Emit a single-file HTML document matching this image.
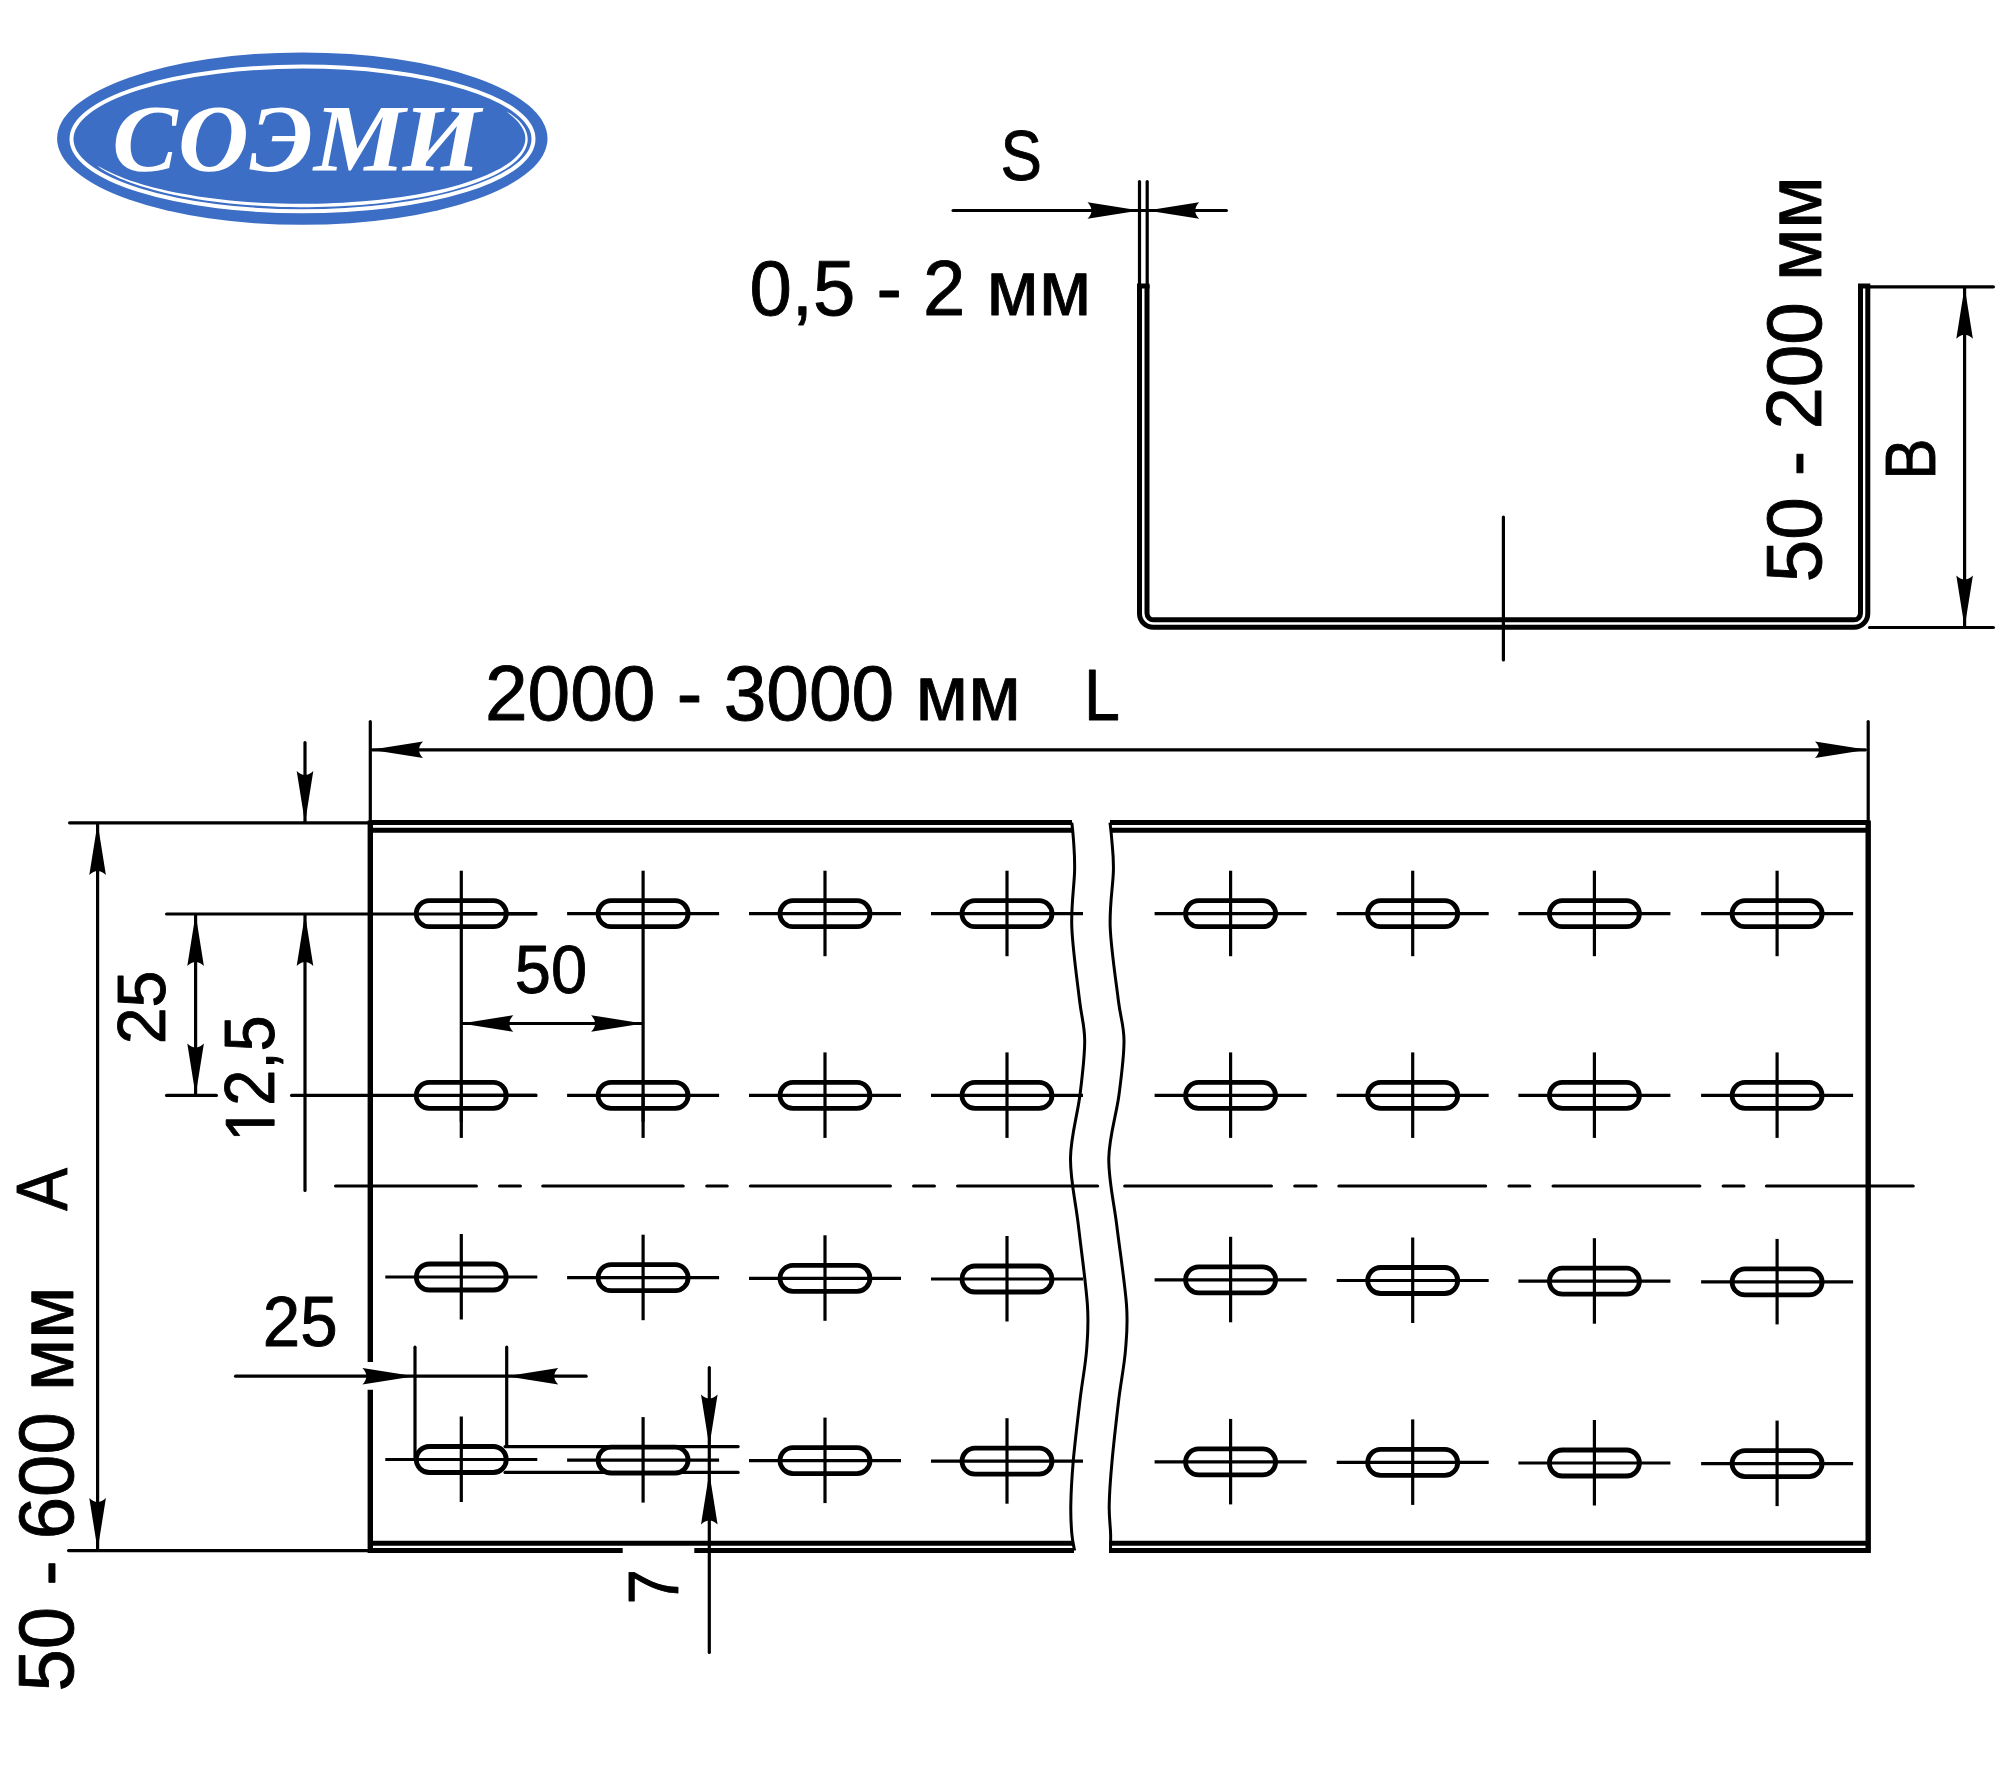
<!DOCTYPE html><html><head><meta charset="utf-8"><style>html,body{margin:0;padding:0;background:#fff;width:2000px;height:1771px;overflow:hidden}svg{display:block}</style></head><body>
<svg width="2000" height="1771" viewBox="0 0 2000 1771">
<rect width="2000" height="1771" fill="#fff"/>
<ellipse cx="302.3" cy="138.6" rx="245.2" ry="86.2" fill="#3b6ec4"/>
<ellipse cx="302.5" cy="138.95" rx="231" ry="72.35" fill="none" stroke="#fff" stroke-width="4"/>
<path d="M97.4,165.7 L100.9,168.4 L104.9,170.9 L109.1,173.3 L113.8,175.6 L118.7,177.9 L123.9,180.1 L129.4,182.2 L135.1,184.3 L141.1,186.2 L147.4,188.1 L153.9,190.0 L160.7,191.7 L167.6,193.4 L174.8,195.0 L182.2,196.4 L189.7,197.8 L197.5,199.2 L205.4,200.4 L213.4,201.5 L221.6,202.5 L229.9,203.4 L238.3,204.3 L246.9,205.0 L255.5,205.6 L264.2,206.1 L272.9,206.5 L281.7,206.9 L290.5,207.1 L299.4,207.2 L308.2,207.2 L317.1,207.1 L325.9,206.8 L334.7,206.5 L343.4,206.1 L352.1,205.6 L360.7,205.0 L369.2,204.2 L377.6,203.4 L385.9,202.5 L394.0,201.5 L402.0,200.3 L409.9,199.1 L417.6,197.8 L425.1,196.4 L432.4,194.9 L439.6,193.4 L446.5,191.7 L453.2,190.0 L459.6,188.1 L465.9,186.3 L471.8,184.3 L477.5,182.2 L483.0,180.1 L488.1,178.0 L493.0,175.7 L497.6,173.4 L501.9,171.1 L505.9,168.7 L509.5,166.2 L512.9,163.7 L515.9,161.2 L518.6,158.6 L520.9,156.0 L522.9,153.3 L524.6,150.6 L525.9,147.8 L526.9,145.1 L527.5,142.3 L527.7,139.5 L527.5,136.7 L527.0,134.0 L526.1,131.3 L524.9,128.6 L523.3,125.9 L521.3,123.3 L519.1,120.8 L516.4,118.3 L513.5,115.9 L510.2,113.5 L506.5,111.5 L506.5,111.5 L509.7,114.2 L512.8,116.7 L515.5,119.3 L517.9,121.8 L520.0,124.4 L521.7,126.9 L523.1,129.5 L524.2,132.0 L524.9,134.5 L525.3,137.0 L525.3,139.4 L525.0,141.9 L524.4,144.4 L523.5,146.8 L522.3,149.3 L520.7,151.7 L518.8,154.1 L516.5,156.6 L513.9,159.0 L511.0,161.4 L507.8,163.7 L504.2,166.1 L500.3,168.4 L496.1,170.6 L491.6,172.8 L486.8,175.0 L481.8,177.1 L476.4,179.1 L470.7,181.1 L464.8,183.0 L458.7,184.9 L452.3,186.7 L445.7,188.4 L438.8,190.0 L431.7,191.5 L424.4,193.0 L417.0,194.4 L409.3,195.7 L401.5,196.9 L393.6,198.0 L385.4,199.0 L377.2,199.9 L368.9,200.8 L360.4,201.5 L351.8,202.1 L343.2,202.7 L334.5,203.1 L325.8,203.4 L317.0,203.7 L308.2,203.8 L299.4,203.8 L290.6,203.7 L281.8,203.6 L273.0,203.3 L264.3,202.9 L255.7,202.4 L247.1,201.9 L238.6,201.2 L230.2,200.4 L221.9,199.5 L213.8,198.6 L205.8,197.5 L197.9,196.4 L190.2,195.1 L182.7,193.8 L175.3,192.4 L168.2,190.9 L161.2,189.3 L154.5,187.7 L148.0,186.0 L141.8,184.2 L135.8,182.3 L130.0,180.4 L124.5,178.4 L119.3,176.3 L114.4,174.2 L109.7,172.1 L105.4,169.9 L101.3,167.7 L97.4,165.7 Z" fill="#fff"/>
<text transform="translate(112.36,170.60) scale(1.0263,1)" font-size="95.62" font-family="Liberation Serif" font-style="italic" font-weight="bold" fill="#fff">С</text>
<text transform="translate(178.08,170.60) scale(1.0236,1)" font-size="95.62" font-family="Liberation Serif" font-style="italic" font-weight="bold" fill="#fff">О</text>
<text transform="translate(249.60,170.60) scale(1.0206,1)" font-size="95.62" font-family="Liberation Serif" font-style="italic" font-weight="bold" fill="#fff">Э</text>
<text transform="translate(313.74,170.60) scale(1.0751,1)" font-size="95.62" font-family="Liberation Serif" font-style="italic" font-weight="bold" fill="#fff">М</text>
<text transform="translate(402.60,170.60) scale(1.0523,1)" font-size="95.62" font-family="Liberation Serif" font-style="italic" font-weight="bold" fill="#fff">И</text>
<g stroke="#000" stroke-linecap="butt" fill="none">
<path d="M1139.5,285 V613.5 A13.8,13.8 0 0 0 1153.3,627.3 H1854 A13.8,13.8 0 0 0 1867.8,613.5 V285" stroke-width="5.0"/>
<path d="M1147,285 V613.3 A6.5,6.5 0 0 0 1153.5,619.8 H1854 A6.5,6.5 0 0 0 1860.5,613.3 V285" stroke-width="5.0"/>
<path d="M1137,286 H1149.5 M1858,286 H1870.3" stroke-width="5.0"/>
<line x1="1139.5" y1="181.6" x2="1139.5" y2="284.4" stroke-width="3.2" stroke-linecap="round"/>
<line x1="1147.2" y1="181.6" x2="1147.2" y2="284.4" stroke-width="3.2" stroke-linecap="round"/>
<line x1="953.1" y1="210.5" x2="1226.4" y2="210.5" stroke-width="3.2" stroke-linecap="round"/>
<line x1="1869.6" y1="286.8" x2="1993.4" y2="286.8" stroke-width="3.2" stroke-linecap="round"/>
<line x1="1869.6" y1="627.5" x2="1993.4" y2="627.5" stroke-width="3.2" stroke-linecap="round"/>
<line x1="1964.6" y1="288.4" x2="1964.6" y2="625.9" stroke-width="3.2" stroke-linecap="round"/>
<line x1="1503.4" y1="517.0" x2="1503.4" y2="659.9" stroke-width="3.2" stroke-linecap="round"/>
<line x1="370.3" y1="721.6" x2="370.3" y2="821.4" stroke-width="3.2" stroke-linecap="round"/>
<line x1="1868.2" y1="721.6" x2="1868.2" y2="821.4" stroke-width="3.2" stroke-linecap="round"/>
<line x1="372.6" y1="749.8" x2="1865.4" y2="749.8" stroke-width="3.2" stroke-linecap="round"/>
<path d="M370,822.6 H1072 M1110,822.6 H1868" stroke-width="5.0"/>
<path d="M370,830.2 H1073 M1111,830.2 H1868" stroke-width="5.0"/>
<path d="M370,1543.3 H1074 M1109,1543.3 H1868" stroke-width="5.0"/>
<path d="M370,1550.6 H622.7 M694.3,1550.6 H1074 M1109,1550.6 H1868" stroke-width="5.0"/>
<path d="M370.3,820.5 V1362 M370.3,1389.7 V1553" stroke-width="5.4"/>
<path d="M1868.2,820.5 V1553" stroke-width="5.4"/>
<path d="M1071.8,822.6 C1072.1,825.5 1073.0,832.0 1073.5,840.0 C1074.0,848.0 1074.9,856.1 1074.6,870.6 C1074.3,885.1 1071.0,905.4 1071.8,927.0 C1072.6,948.6 1077.3,981.1 1079.5,1000.0 C1081.7,1018.9 1084.6,1024.8 1084.7,1040.6 C1084.8,1056.4 1082.4,1075.2 1080.0,1094.8 C1077.6,1114.4 1070.8,1136.2 1070.5,1158.0 C1070.2,1179.8 1075.6,1201.2 1078.4,1225.7 C1081.2,1250.2 1086.0,1284.0 1087.4,1304.7 C1088.8,1325.4 1087.8,1334.1 1086.6,1350.0 C1085.4,1365.9 1082.2,1381.4 1080.0,1400.0 C1077.8,1418.6 1074.7,1444.0 1073.2,1461.6 C1071.7,1479.2 1071.0,1493.4 1070.8,1505.4 C1070.6,1517.4 1071.2,1526.1 1071.8,1533.6 C1072.4,1541.1 1074.1,1547.8 1074.6,1550.6 " stroke-width="3"/>
<path d="M1110.0,822.6 C1110.3,825.5 1111.2,832.0 1111.8,840.0 C1112.4,848.0 1113.7,856.1 1113.4,870.6 C1113.1,885.1 1109.4,905.4 1110.2,927.0 C1111.0,948.6 1116.0,981.1 1118.3,1000.0 C1120.6,1018.9 1123.9,1024.8 1124.0,1040.6 C1124.1,1056.4 1121.5,1075.2 1119.0,1094.8 C1116.5,1114.4 1109.2,1136.2 1108.8,1158.0 C1108.4,1179.8 1113.8,1201.2 1116.8,1225.7 C1119.8,1250.2 1125.0,1284.0 1126.5,1304.7 C1128.0,1325.4 1126.8,1334.1 1125.5,1350.0 C1124.2,1365.9 1121.0,1381.4 1118.7,1400.0 C1116.5,1418.6 1113.6,1444.0 1112.0,1461.6 C1110.4,1479.2 1109.4,1493.4 1109.2,1505.4 C1109.0,1517.4 1110.4,1526.1 1110.6,1533.6 C1110.8,1541.1 1110.5,1547.8 1110.5,1550.6 " stroke-width="3"/>
<line x1="69.6" y1="822.8" x2="368.4" y2="822.8" stroke-width="3.2" stroke-linecap="round"/>
<line x1="68.6" y1="1550.6" x2="368.4" y2="1550.6" stroke-width="3.2" stroke-linecap="round"/>
<line x1="166.6" y1="914.0" x2="535.7" y2="914.0" stroke-width="3.2" stroke-linecap="round"/>
<line x1="166.6" y1="1095.4" x2="216.4" y2="1095.4" stroke-width="3.2" stroke-linecap="round"/>
<line x1="291.6" y1="1095.4" x2="535.7" y2="1095.4" stroke-width="3.2" stroke-linecap="round"/>
<line x1="97.6" y1="824.6" x2="97.6" y2="1548.4" stroke-width="3.2" stroke-linecap="round"/>
<line x1="195.6" y1="915.6" x2="195.6" y2="1093.8" stroke-width="3.2" stroke-linecap="round"/>
<line x1="305.0" y1="742.6" x2="305.0" y2="821.4" stroke-width="3.2" stroke-linecap="round"/>
<line x1="305.0" y1="915.6" x2="305.0" y2="1190.4" stroke-width="3.2" stroke-linecap="round"/>
<path d="M335.6,1186 H476.4 M499.6,1186 H520.4 M542.8000000000001,1186 H683.1999999999999 M706.8000000000001,1186 H727.1999999999999 M750.4,1186 H890.4 M913.6,1186 H934.4 M957.6,1186 H1097.6000000000001 M1124.6999999999998,1186 H1271.4 M1294.8,1186 H1316.0 M1338.8999999999999,1186 H1485.6000000000001 M1509.0,1186 H1529.7 M1553.1,1186 H1699.8000000000002 M1723.1999999999998,1186 H1743.9 M1766.5,1186 H1913.2 " stroke-width="3.2" stroke-linecap="round"/>
<rect x="416.3" y="900.7" width="90" height="26" rx="13" ry="13" stroke-width="4.8"/>
<path d="M461.3,913.7 H537.3" stroke-width="3.2"/>
<path d="M461.3,870.7 V1121.8" stroke-width="3.2"/>
<rect x="598.1" y="900.7" width="90" height="26" rx="13" ry="13" stroke-width="4.8"/>
<path d="M567.1,913.7 H719.1" stroke-width="3.2"/>
<path d="M643.1,870.7 V1121.8" stroke-width="3.2"/>
<rect x="780.0" y="900.7" width="90" height="26" rx="13" ry="13" stroke-width="4.8"/>
<path d="M749.0,913.7 H901.0" stroke-width="3.2"/>
<path d="M825.0,870.7 V956.2" stroke-width="3.2"/>
<rect x="962.0" y="900.7" width="90" height="26" rx="13" ry="13" stroke-width="4.8"/>
<path d="M931.0,913.7 H1083.0" stroke-width="3.2"/>
<path d="M1007.0,870.7 V956.2" stroke-width="3.2"/>
<rect x="1185.6" y="900.7" width="90" height="26" rx="13" ry="13" stroke-width="4.8"/>
<path d="M1154.6,913.7 H1306.6" stroke-width="3.2"/>
<path d="M1230.6,870.7 V956.2" stroke-width="3.2"/>
<rect x="1367.7" y="900.7" width="90" height="26" rx="13" ry="13" stroke-width="4.8"/>
<path d="M1336.7,913.7 H1488.7" stroke-width="3.2"/>
<path d="M1412.7,870.7 V956.2" stroke-width="3.2"/>
<rect x="1549.4" y="900.7" width="90" height="26" rx="13" ry="13" stroke-width="4.8"/>
<path d="M1518.4,913.7 H1670.4" stroke-width="3.2"/>
<path d="M1594.4,870.7 V956.2" stroke-width="3.2"/>
<rect x="1732.1" y="900.7" width="90" height="26" rx="13" ry="13" stroke-width="4.8"/>
<path d="M1701.1,913.7 H1853.1" stroke-width="3.2"/>
<path d="M1777.1,870.7 V956.2" stroke-width="3.2"/>
<rect x="416.3" y="1082.4" width="90" height="26" rx="13" ry="13" stroke-width="4.8"/>
<path d="M461.3,1095.4 H537.3" stroke-width="3.2"/>
<path d="M461.3,1095.4 V1137.9" stroke-width="3.2"/>
<rect x="598.1" y="1082.4" width="90" height="26" rx="13" ry="13" stroke-width="4.8"/>
<path d="M567.1,1095.4 H719.1" stroke-width="3.2"/>
<path d="M643.1,1095.4 V1137.9" stroke-width="3.2"/>
<rect x="780.0" y="1082.4" width="90" height="26" rx="13" ry="13" stroke-width="4.8"/>
<path d="M749.0,1095.4 H901.0" stroke-width="3.2"/>
<path d="M825.0,1052.4 V1137.9" stroke-width="3.2"/>
<rect x="962.0" y="1082.4" width="90" height="26" rx="13" ry="13" stroke-width="4.8"/>
<path d="M931.0,1095.4 H1083.0" stroke-width="3.2"/>
<path d="M1007.0,1052.4 V1137.9" stroke-width="3.2"/>
<rect x="1185.6" y="1082.4" width="90" height="26" rx="13" ry="13" stroke-width="4.8"/>
<path d="M1154.6,1095.4 H1306.6" stroke-width="3.2"/>
<path d="M1230.6,1052.4 V1137.9" stroke-width="3.2"/>
<rect x="1367.7" y="1082.4" width="90" height="26" rx="13" ry="13" stroke-width="4.8"/>
<path d="M1336.7,1095.4 H1488.7" stroke-width="3.2"/>
<path d="M1412.7,1052.4 V1137.9" stroke-width="3.2"/>
<rect x="1549.4" y="1082.4" width="90" height="26" rx="13" ry="13" stroke-width="4.8"/>
<path d="M1518.4,1095.4 H1670.4" stroke-width="3.2"/>
<path d="M1594.4,1052.4 V1137.9" stroke-width="3.2"/>
<rect x="1732.1" y="1082.4" width="90" height="26" rx="13" ry="13" stroke-width="4.8"/>
<path d="M1701.1,1095.4 H1853.1" stroke-width="3.2"/>
<path d="M1777.1,1052.4 V1137.9" stroke-width="3.2"/>
<rect x="416.3" y="1264.0" width="90" height="26" rx="13" ry="13" stroke-width="4.8"/>
<path d="M385.3,1277.0 H537.3" stroke-width="3.2"/>
<path d="M461.3,1234.0 V1319.5" stroke-width="3.2"/>
<rect x="598.1" y="1264.7" width="90" height="26" rx="13" ry="13" stroke-width="4.8"/>
<path d="M567.1,1277.7 H719.1" stroke-width="3.2"/>
<path d="M643.1,1234.7 V1320.2" stroke-width="3.2"/>
<rect x="780.0" y="1265.3" width="90" height="26" rx="13" ry="13" stroke-width="4.8"/>
<path d="M749.0,1278.3 H901.0" stroke-width="3.2"/>
<path d="M825.0,1235.3 V1320.8" stroke-width="3.2"/>
<rect x="962.0" y="1266.0" width="90" height="26" rx="13" ry="13" stroke-width="4.8"/>
<path d="M931.0,1279.0 H1083.0" stroke-width="3.2"/>
<path d="M1007.0,1236.0 V1321.5" stroke-width="3.2"/>
<rect x="1185.6" y="1266.8" width="90" height="26" rx="13" ry="13" stroke-width="4.8"/>
<path d="M1154.6,1279.8 H1306.6" stroke-width="3.2"/>
<path d="M1230.6,1236.8 V1322.3" stroke-width="3.2"/>
<rect x="1367.7" y="1267.5" width="90" height="26" rx="13" ry="13" stroke-width="4.8"/>
<path d="M1336.7,1280.5 H1488.7" stroke-width="3.2"/>
<path d="M1412.7,1237.5 V1323.0" stroke-width="3.2"/>
<rect x="1549.4" y="1268.2" width="90" height="26" rx="13" ry="13" stroke-width="4.8"/>
<path d="M1518.4,1281.2 H1670.4" stroke-width="3.2"/>
<path d="M1594.4,1238.2 V1323.7" stroke-width="3.2"/>
<rect x="1732.1" y="1268.9" width="90" height="26" rx="13" ry="13" stroke-width="4.8"/>
<path d="M1701.1,1281.9 H1853.1" stroke-width="3.2"/>
<path d="M1777.1,1238.9 V1324.4" stroke-width="3.2"/>
<rect x="416.3" y="1446.5" width="90" height="26" rx="13" ry="13" stroke-width="4.8"/>
<path d="M385.3,1459.5 H537.3" stroke-width="3.2"/>
<path d="M461.3,1416.5 V1502.0" stroke-width="3.2"/>
<rect x="598.1" y="1447.1" width="90" height="26" rx="13" ry="13" stroke-width="4.8"/>
<path d="M567.1,1460.1 H719.1" stroke-width="3.2"/>
<path d="M643.1,1417.1 V1502.6" stroke-width="3.2"/>
<rect x="780.0" y="1447.6" width="90" height="26" rx="13" ry="13" stroke-width="4.8"/>
<path d="M749.0,1460.6 H901.0" stroke-width="3.2"/>
<path d="M825.0,1417.6 V1503.1" stroke-width="3.2"/>
<rect x="962.0" y="1448.2" width="90" height="26" rx="13" ry="13" stroke-width="4.8"/>
<path d="M931.0,1461.2 H1083.0" stroke-width="3.2"/>
<path d="M1007.0,1418.2 V1503.7" stroke-width="3.2"/>
<rect x="1185.6" y="1448.9" width="90" height="26" rx="13" ry="13" stroke-width="4.8"/>
<path d="M1154.6,1461.9 H1306.6" stroke-width="3.2"/>
<path d="M1230.6,1418.9 V1504.4" stroke-width="3.2"/>
<rect x="1367.7" y="1449.4" width="90" height="26" rx="13" ry="13" stroke-width="4.8"/>
<path d="M1336.7,1462.4 H1488.7" stroke-width="3.2"/>
<path d="M1412.7,1419.4 V1504.9" stroke-width="3.2"/>
<rect x="1549.4" y="1450.0" width="90" height="26" rx="13" ry="13" stroke-width="4.8"/>
<path d="M1518.4,1463.0 H1670.4" stroke-width="3.2"/>
<path d="M1594.4,1420.0 V1505.5" stroke-width="3.2"/>
<rect x="1732.1" y="1450.6" width="90" height="26" rx="13" ry="13" stroke-width="4.8"/>
<path d="M1701.1,1463.6 H1853.1" stroke-width="3.2"/>
<path d="M1777.1,1420.6 V1506.1" stroke-width="3.2"/>
<line x1="462.9" y1="1023.5" x2="641.5" y2="1023.5" stroke-width="3.2" stroke-linecap="round"/>
<line x1="235.6" y1="1376.2" x2="586.1" y2="1376.2" stroke-width="3.2" stroke-linecap="round"/>
<line x1="415.0" y1="1347.2" x2="415.0" y2="1457.9" stroke-width="3.2" stroke-linecap="round"/>
<line x1="506.7" y1="1347.2" x2="506.7" y2="1445.4" stroke-width="3.2" stroke-linecap="round"/>
<line x1="505.1" y1="1446.6" x2="738.1" y2="1446.6" stroke-width="3.2" stroke-linecap="round"/>
<line x1="505.1" y1="1472.4" x2="738.1" y2="1472.4" stroke-width="3.2" stroke-linecap="round"/>
<line x1="709.3" y1="1367.6" x2="709.3" y2="1652.4" stroke-width="3.2" stroke-linecap="round"/>
</g>
<g fill="#000" stroke="none">
<path transform="translate(1139.5,210.5) rotate(0)" d="M0,0 L-52,-8.3 Q-44.0,0 -52,8.3 Z"/>
<path transform="translate(1147.2,210.5) rotate(180)" d="M0,0 L-52,-8.3 Q-44.0,0 -52,8.3 Z"/>
<path transform="translate(1964.6,286.8) rotate(270)" d="M0,0 L-52,-8.3 Q-44.0,0 -52,8.3 Z"/>
<path transform="translate(1964.6,627.5) rotate(90)" d="M0,0 L-52,-8.3 Q-44.0,0 -52,8.3 Z"/>
<path transform="translate(371.0,749.8) rotate(180)" d="M0,0 L-52,-8.3 Q-44.0,0 -52,8.3 Z"/>
<path transform="translate(1867.0,749.8) rotate(0)" d="M0,0 L-52,-8.3 Q-44.0,0 -52,8.3 Z"/>
<path transform="translate(97.6,823.0) rotate(270)" d="M0,0 L-52,-8.3 Q-44.0,0 -52,8.3 Z"/>
<path transform="translate(97.6,1550.0) rotate(90)" d="M0,0 L-52,-8.3 Q-44.0,0 -52,8.3 Z"/>
<path transform="translate(195.6,914.0) rotate(270)" d="M0,0 L-52,-8.3 Q-44.0,0 -52,8.3 Z"/>
<path transform="translate(195.6,1095.4) rotate(90)" d="M0,0 L-52,-8.3 Q-44.0,0 -52,8.3 Z"/>
<path transform="translate(305.0,823.0) rotate(90)" d="M0,0 L-52,-8.3 Q-44.0,0 -52,8.3 Z"/>
<path transform="translate(305.0,914.0) rotate(270)" d="M0,0 L-52,-8.3 Q-44.0,0 -52,8.3 Z"/>
<path transform="translate(461.3,1023.5) rotate(180)" d="M0,0 L-52,-8.3 Q-44.0,0 -52,8.3 Z"/>
<path transform="translate(643.1,1023.5) rotate(0)" d="M0,0 L-52,-8.3 Q-44.0,0 -52,8.3 Z"/>
<path transform="translate(414.4,1376.2) rotate(0)" d="M0,0 L-52,-8.3 Q-44.0,0 -52,8.3 Z"/>
<path transform="translate(506.2,1376.2) rotate(180)" d="M0,0 L-52,-8.3 Q-44.0,0 -52,8.3 Z"/>
<path transform="translate(709.3,1446.6) rotate(90)" d="M0,0 L-52,-8.3 Q-44.0,0 -52,8.3 Z"/>
<path transform="translate(709.3,1472.4) rotate(270)" d="M0,0 L-52,-8.3 Q-44.0,0 -52,8.3 Z"/>
</g>
<g fill="#000">
<text transform="translate(1000.49,179.73) scale(0.8811,1)" font-size="70.46" font-family="Liberation Sans" stroke="#000" stroke-width="0.9" stroke-linejoin="round">S</text>
<text transform="translate(749.48,314.85) scale(0.9684,1)" font-size="78.65" font-family="Liberation Sans" stroke="#000" stroke-width="0.9" stroke-linejoin="round">0,5 - 2 мм</text>
<text transform="translate(1820.85,582.20) rotate(-90) scale(0.9753,1)" font-size="78.22" font-family="Liberation Sans" stroke="#000" stroke-width="0.9" stroke-linejoin="round">50 - 200 мм</text>
<text transform="translate(1934.55,479.74) rotate(-90) scale(0.8781,1)" font-size="70.64" font-family="Liberation Sans" stroke="#000" stroke-width="0.9" stroke-linejoin="round">В</text>
<text transform="translate(484.92,719.55) scale(0.9760,1)" font-size="78.58" font-family="Liberation Sans" stroke="#000" stroke-width="0.9" stroke-linejoin="round">2000 - 3000 мм</text>
<text transform="translate(1083.91,719.55) scale(0.9040,1)" font-size="71.37" font-family="Liberation Sans" stroke="#000" stroke-width="0.9" stroke-linejoin="round">L</text>
<text transform="translate(514.85,992.85) scale(0.9525,1)" font-size="68.19" font-family="Liberation Sans" stroke="#000" stroke-width="0.9" stroke-linejoin="round">50</text>
<text transform="translate(164.75,1044.37) rotate(-90) scale(0.9612,1)" font-size="69.05" font-family="Liberation Sans" stroke="#000" stroke-width="0.9" stroke-linejoin="round">25</text>
<g transform="translate(274.15,1141.80) rotate(-90) scale(0.9315,1)"><path transform="scale(0.03407,-0.03407)" stroke="#000" stroke-width="26.42" stroke-linejoin="round" d="M515,0 L515,1237 L197,1010 L197,1180 L530,1409 L696,1409 L696,0 Z"/><text x="38.80" y="0" font-size="69.77" font-family="Liberation Sans" stroke="#000" stroke-width="0.9" stroke-linejoin="round">2,5</text></g>
<text transform="translate(67.25,1210.68) rotate(-90) scale(0.8967,1)" font-size="71.66" font-family="Liberation Sans" stroke="#000" stroke-width="0.9" stroke-linejoin="round">A</text>
<text transform="translate(72.55,1691.60) rotate(-90) scale(0.9736,1)" font-size="78.22" font-family="Liberation Sans" stroke="#000" stroke-width="0.9" stroke-linejoin="round">50 - 600 мм</text>
<text transform="translate(262.84,1345.55) scale(0.9561,1)" font-size="70.34" font-family="Liberation Sans" stroke="#000" stroke-width="0.9" stroke-linejoin="round">25</text>
<text transform="translate(678.35,1604.37) rotate(-90) scale(0.9060,1)" font-size="69.62" font-family="Liberation Sans" stroke="#000" stroke-width="0.9" stroke-linejoin="round">7</text>
</g>
</svg></body></html>
